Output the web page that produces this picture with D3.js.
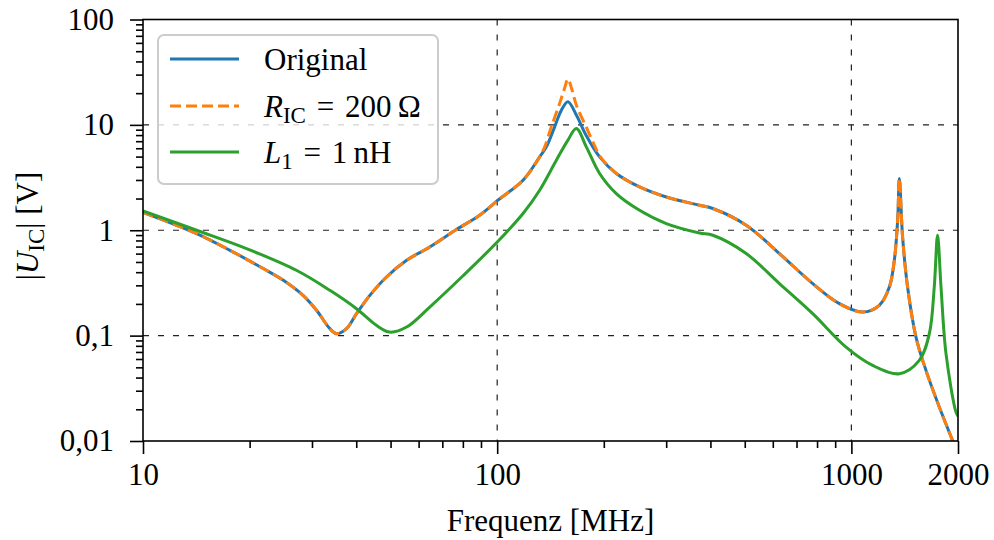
<!DOCTYPE html>
<html>
<head>
<meta charset="utf-8">
<script src="https://cdn.jsdelivr.net/npm/d3@7"></script>
<style>
  html, body { margin: 0; padding: 0; background: #fff; }
  svg { display: block; font-family: "Liberation Serif", "DejaVu Serif", serif; }
  text { white-space: pre; }
</style>
</head>
<body>
<svg id="chart" width="994" height="540"></svg>
<script>
// frequency [MHz], |U_IC| [V]
const original = [
  [10, 1.48], [14.17, 0.93], [17.6, 0.645], [21.85, 0.433], [24.9, 0.335], [28.3, 0.241],
  [30.9, 0.174], [33.7, 0.1164], [35.2, 0.1043], [37.55, 0.1164], [40.07, 0.1616], [43.7, 0.241],
  [48.7, 0.36], [55.5, 0.519], [64.5, 0.694], [76.7, 1.015], [89.2, 1.388], [100.5, 1.93],
  [118.3, 2.985], [131.8, 4.97], [137.7, 6.19], [145.3, 9.58], [151.8, 13.8], [158.4, 16.6],
  [167.3, 12.4], [178.5, 7.9], [194.6, 4.97], [216.9, 3.46], [252.3, 2.58], [300.2, 2.07],
  [372.5, 1.728], [406.3, 1.608], [504.7, 1.116], [626.5, 0.601], [777.8, 0.3116], [925, 0.201],
  [1076, 0.1674], [1199, 0.194], [1280, 0.289], [1322, 0.519], [1351, 1.245], [1366, 3.1],
  [1395, 0.864], [1441, 0.289], [1522, 0.0969], [1624, 0.0468], [1771, 0.021], [1931, 0.0101],
  [2000, 0.0075]
];
const rIc200 = [
  [10, 1.48], [14.17, 0.93], [17.6, 0.645], [21.85, 0.433], [24.9, 0.335], [28.3, 0.241],
  [30.9, 0.174], [33.7, 0.1164], [35.2, 0.1043], [37.55, 0.1164], [40.07, 0.1616], [43.7, 0.241],
  [48.7, 0.36], [55.5, 0.519], [64.5, 0.694], [76.7, 1.015], [89.2, 1.388], [100.5, 1.93],
  [118.3, 2.985], [131.8, 4.97], [136.2, 6.19], [142.2, 9.58], [150.1, 16.0], [154.8, 22.0],
  [158.4, 27.2], [162.3, 22.0], [167.3, 15.4], [178.5, 9.5], [188.4, 6.35], [194.6, 5.1],
  [216.9, 3.46], [252.3, 2.58], [300.2, 2.07], [372.5, 1.728], [406.3, 1.608], [504.7, 1.116],
  [626.5, 0.601], [777.8, 0.3116], [925, 0.201], [1076, 0.1674], [1199, 0.194], [1280, 0.289],
  [1322, 0.519], [1351, 1.245], [1366, 3.1], [1395, 0.864], [1441, 0.289], [1522, 0.0969],
  [1624, 0.0468], [1771, 0.021], [1931, 0.0101], [2000, 0.0075]
];
const l1nH = [
  [10, 1.525], [14.17, 1.0], [19.6, 0.67], [27.1, 0.417], [33.7, 0.269], [40.07, 0.18],
  [45.6, 0.1252], [49.75, 0.108], [55.5, 0.1206], [64.5, 0.1867], [80.1, 0.37], [100.5, 0.786],
  [118.3, 1.441], [131.8, 2.4], [146.9, 4.62], [158.4, 7.16], [167.3, 9.25], [178.5, 6.19],
  [194.6, 3.46], [216.9, 2.23], [252.3, 1.549], [300.2, 1.158], [372.5, 0.943], [406.3, 0.896],
  [504.7, 0.601], [626.5, 0.3116], [777.8, 0.1616], [966, 0.0778], [1148, 0.0522], [1366, 0.0435],
  [1555, 0.0582], [1660, 0.1043], [1714, 0.289], [1751, 0.896], [1791, 0.289], [1850, 0.0674],
  [1974, 0.0188], [2000, 0.0172]
];

const xTicks = [10, 100, 1000, 2000];
const xTickLabels = ['10', '100', '1000', '2000'];
const yTicks = [0.01, 0.1, 1, 10, 100];
const yTickLabels = ['0,01', '0,1', '1', '10', '100'];

const W = 994, H = 540;
const L = 143, R = 958, T = 19.5, B = 441;
const FS = 31, SUB = 23;

const svg = d3.select('#chart');
const x = d3.scaleLog().domain([10, 2000]).range([L, R]);
const y = d3.scaleLog().domain([0.01, 100]).range([B, T]);

svg.append('defs').append('clipPath').attr('id', 'plot')
  .append('rect').attr('x', L).attr('y', T).attr('width', R - L).attr('height', B - T);

// grid at decades
const grid = svg.append('g').attr('stroke', '#222').attr('stroke-width', 1.2).attr('stroke-dasharray', '6,9');
[100, 1000].forEach(v => grid.append('line').attr('x1', x(v)).attr('x2', x(v)).attr('y1', T).attr('y2', B));
[0.1, 1, 10].forEach(v => grid.append('line').attr('x1', L).attr('x2', R).attr('y1', y(v)).attr('y2', y(v)));

// curves
const line = d3.line().x(d => x(d[0])).y(d => y(d[1])).curve(d3.curveCatmullRom.alpha(0.5));
const curves = svg.append('g').attr('clip-path', 'url(#plot)').attr('fill', 'none')
  .attr('stroke-width', 3).attr('stroke-linejoin', 'round');
curves.append('path').datum(original).attr('d', line).attr('stroke', '#1f77b4');
curves.append('path').datum(rIc200).attr('d', line).attr('stroke', '#ff7f0e').attr('stroke-dasharray', '11,5');
curves.append('path').datum(l1nH).attr('d', line).attr('stroke', '#2ca02c');

// axes
const minorX = [];
[10, 100, 1000].forEach(d => { for (let k = 2; k <= 9; k++) if (d * k < 2000) minorX.push(d * k); });
const minorY = [];
[0.01, 0.1, 1, 10].forEach(d => { for (let k = 2; k <= 9; k++) minorY.push(d * k); });

function styleAxis(g) {
  g.select('.domain').remove();
  g.selectAll('line').attr('stroke', '#000').attr('stroke-width', 1.6);
  g.selectAll('text').attr('fill', '#000').attr('font-size', FS).attr('font-family', 'Liberation Serif, serif');
}

svg.append('g').attr('transform', `translate(0,${B})`)
  .call(d3.axisBottom(x).tickValues(minorX).tickSize(7).tickFormat('')).call(styleAxis);
svg.append('g').attr('transform', `translate(0,${B})`)
  .call(d3.axisBottom(x).tickValues(xTicks).tickSize(13).tickPadding(9)
    .tickFormat((d, i) => xTickLabels[i])).call(styleAxis);
svg.append('g').attr('transform', `translate(${L},0)`)
  .call(d3.axisLeft(y).tickValues(minorY).tickSize(7).tickFormat('')).call(styleAxis);
svg.append('g').attr('transform', `translate(${L},0)`)
  .call(d3.axisLeft(y).tickValues(yTicks).tickSize(13).tickPadding(16)
    .tickFormat((d, i) => yTickLabels[i])).call(styleAxis);

// spines
svg.append('rect').attr('x', L).attr('y', T).attr('width', R - L).attr('height', B - T)
  .attr('fill', 'none').attr('stroke', '#000').attr('stroke-width', 1.6);

// axis titles
svg.append('text').attr('x', (L + R) / 2).attr('y', 531).attr('text-anchor', 'middle')
  .attr('font-size', FS).text('Frequenz [MHz]');

const yl = svg.append('text').attr('transform', 'translate(38,226) rotate(-90)')
  .attr('text-anchor', 'middle').attr('font-size', FS);
yl.append('tspan').text('|');
yl.append('tspan').attr('font-style', 'italic').text('U');
yl.append('tspan').attr('font-size', SUB).attr('dy', 6).text('IC');
yl.append('tspan').attr('dy', -6).text('| [V]');

// legend
const leg = svg.append('g');
leg.append('rect').attr('x', 158).attr('y', 35).attr('width', 280).attr('height', 149).attr('rx', 6)
  .attr('fill', '#fff').attr('fill-opacity', 0.8).attr('stroke', '#ccc').attr('stroke-width', 2);

const rows = [
  { c: '#1f77b4', dash: null, y: 59 },
  { c: '#ff7f0e', dash: '11,5', y: 106 },
  { c: '#2ca02c', dash: null, y: 152 }
];
rows.forEach(r => {
  leg.append('line').attr('x1', 170).attr('x2', 239).attr('y1', r.y).attr('y2', r.y)
    .attr('stroke', r.c).attr('stroke-width', 3).attr('stroke-dasharray', r.dash);
});

leg.append('text').attr('x', 264).attr('y', 70).attr('font-size', FS).text('Original');

const t2 = leg.append('text').attr('x', 264).attr('y', 117).attr('font-size', FS);
t2.append('tspan').attr('font-style', 'italic').text('R');
t2.append('tspan').attr('font-size', SUB).attr('dy', 6).text('IC');
t2.append('tspan').attr('dy', -6).attr('dx', 3).text(' = ');
t2.append('tspan').attr('dx', 3).text('200\u2009Ω');

const t3 = leg.append('text').attr('x', 264).attr('y', 163).attr('font-size', FS);
t3.append('tspan').attr('font-style', 'italic').text('L');
t3.append('tspan').attr('font-size', SUB).attr('dy', 6).text('1');
t3.append('tspan').attr('dy', -6).attr('dx', 3).text(' = ');
t3.append('tspan').attr('dx', 3).text('1\u2009nH');
</script>
</body>
</html>
